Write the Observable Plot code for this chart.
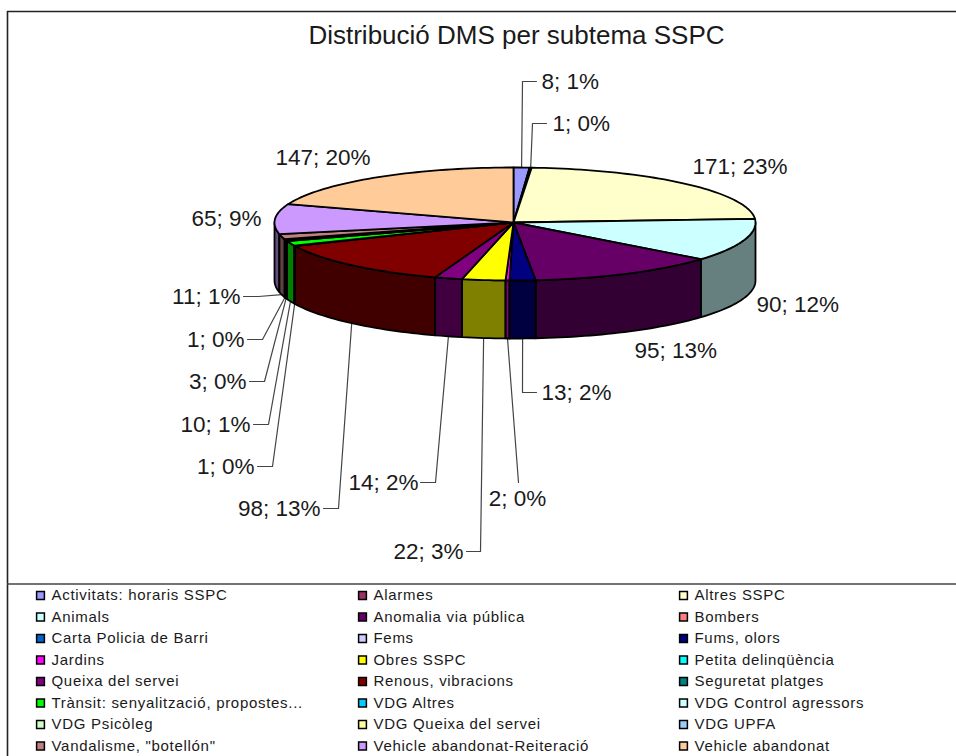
<!DOCTYPE html>
<html>
<head>
<meta charset="utf-8">
<style>
html,body{margin:0;padding:0;background:#fff;overflow:hidden}
</style>
<script src="https://cdn.jsdelivr.net/npm/d3@7"></script>
<script src="https://cdn.jsdelivr.net/npm/@observablehq/plot@0.6"></script>
</head>
<body>
<script>
const title = "Distribució DMS per subtema SSPC";
const categories = ["Activitats: horaris SSPC","Alarmes","Altres SSPC","Animals","Anomalia via pública","Bombers","Carta Policia de Barri","Fems","Fums, olors","Jardins","Obres SSPC","Petita delinqüència","Queixa del servei","Renous, vibracions","Seguretat platges","Trànsit: senyalització, propostes...","VDG Altres","VDG Control agressors","VDG Psicòleg","VDG Queixa del servei","VDG UPFA","Vandalisme, \"botellón\"","Vehicle abandonat-Reiteració","Vehicle abandonat"];
const values = [8,1,171,90,95,0,0,0,13,2,22,0,14,98,1,10,0,3,0,0,1,11,65,147];
const percents = [1,0,23,12,13,0,0,0,2,0,3,0,2,13,0,1,0,0,0,0,0,1,9,20];
const colors = ["#9999FF","#993366","#FFFFCC","#CCFFFF","#660066","#FF8080","#0066CC","#CCCCFF","#000080","#FF00FF","#FFFF00","#00FFFF","#800080","#800000","#008080","#00FF00","#00CCFF","#CCFFFF","#CCFFCC","#FFFF99","#99CCFF","#C08080","#CC99FF","#FFCC99"];

// Layout (page pixels), separate from the data.
const W = 956, H = 756;
const pie = {cx:513, cy:222, rxR:242, rxL:239, ryB:55, ryF:58, depth:58};
const labelLayout = {
  "Activitats: horaris SSPC":{tx:541,ty:81,a:"start",path:[[522,81],[536,81]]},
  "Alarmes":{tx:552,ty:123,a:"start",path:[[532,123],[546,123]]},
  "Altres SSPC":{tx:692,ty:166,a:"start"},
  "Animals":{tx:756,ty:304,a:"start"},
  "Anomalia via pública":{tx:634,ty:350,a:"start"},
  "Fums, olors":{tx:541,ty:392,a:"start",path:[[522,392],[536,392]]},
  "Jardins":{tx:517,ty:498,a:"middle",path:[[518,482]]},
  "Obres SSPC":{tx:463,ty:551,a:"end",path:[[480,551],[466,551]]},
  "Queixa del servei":{tx:418,ty:482,a:"end",path:[[435,482],[420,482]]},
  "Renous, vibracions":{tx:320,ty:508,a:"end",path:[[338,508],[323,508]]},
  "Seguretat platges":{tx:254,ty:466,a:"end",path:[[272,466],[257,466]]},
  "Trànsit: senyalització, propostes...":{tx:250,ty:424,a:"end",path:[[268,424],[253,424]]},
  "VDG Control agressors":{tx:246,ty:381,a:"end",path:[[264,381],[249,381]]},
  "VDG UPFA":{tx:244,ty:339,a:"end",path:[[262,339],[247,339]]},
  "Vandalisme, \"botellón\"":{tx:240,ty:296,a:"end",path:[[258,296],[243,296]]},
  "Vehicle abandonat-Reiteració":{tx:191,ty:218,a:"start"},
  "Vehicle abandonat":{tx:275,ty:157,a:"start"}
};

const total = d3.sum(values);
const rad = d => d * Math.PI / 180;
function rim(deg, dz) {
  const s = Math.sin(rad(deg)), c = Math.cos(rad(deg));
  return [pie.cx + (s >= 0 ? pie.rxR : pie.rxL) * s, pie.cy - (c >= 0 ? pie.ryB : pie.ryF) * c + dz];
}
function arc(a0, a1, dz) {
  const n = Math.max(2, Math.ceil((a1 - a0) / 1.5));
  return d3.range(n + 1).map(i => rim(a0 + (a1 - a0) * i / n, dz));
}

const tops = [], sides = [], labels = [], leaders = [];
let cum = 0;
categories.forEach((cat, i) => {
  const v = values[i];
  const a0 = cum / total * 360, a1 = (cum + v) / total * 360;
  cum += v;
  if (!v) return;
  const ring = [[pie.cx, pie.cy], ...arc(a0, a1, 0), [pie.cx, pie.cy]];
  ring.forEach(p => tops.push({cat, x:p[0], y:p[1]}));
  const s0 = Math.max(a0, 90), s1 = Math.min(a1, 270);
  if (s1 > s0) {
    const wall = [...arc(s0, s1, 0), ...arc(s0, s1, pie.depth).reverse()];
    wall.push(wall[0]);
    wall.forEach(p => sides.push({cat, x:p[0], y:p[1]}));
  }
  const lay = labelLayout[cat];
  labels.push({text:`${v}; ${percents[i]}%`, x:lay.tx, y:lay.ty, a:lay.a});
  if (lay.path) {
    const mid = (a0 + a1) / 2;
    const front = mid > 90 && mid < 270;
    const start = rim(mid, front ? pie.depth : 0);
    [start, ...lay.path].forEach(p => leaders.push({cat, x:p[0], y:p[1]}));
  }
});

const legend = categories.map((cat, i) => ({cat, col:i % 3, row:Math.floor(i / 3)}));
const legendX = [40, 362, 683];
const rowY = r => 595 + r * 21.5;

const FONT = "Liberation Sans, Arial, sans-serif";
const ink = "#1a1a1a";
const textOf = a => labels.filter(d => d.a === a);

const chart = Plot.plot({
  width: W, height: H,
  margin: 0,
  style: {fontFamily: FONT, background: "#fff", color: ink},
  x: {domain:[0, W], range:[0, W], axis:null},
  y: {domain:[0, H], range:[0, H], axis:null},
  color: {type:"ordinal", domain:categories, range:colors},
  marks: [
    // frame and legend separator
    Plot.ruleY([11], {x1:7, x2:W, stroke:"#222", strokeWidth:1.6}),
    Plot.ruleX([7], {y1:11, y2:H, stroke:"#222", strokeWidth:1.6}),
    Plot.ruleY([583.5], {x1:7, x2:W, stroke:"#444", strokeWidth:1.6}),
    // title
    Plot.text([title], {x:()=>516, y:()=>35, text:d=>d, fontSize:26, textAnchor:"middle", lineAnchor:"middle", fill:ink}),
    // leaders
    Plot.line(leaders, {x:"x", y:"y", z:"cat", stroke:"#444", strokeWidth:1.2, curve:"linear"}),
    // walls
    Plot.line(sides, {x:"x", y:"y", z:"cat", fill:"cat", stroke:"none", curve:"linear"}),
    Plot.line(sides, {x:"x", y:"y", z:"cat", fill:"#000", fillOpacity:0.5, stroke:"#000", strokeWidth:1.8, curve:"linear"}),
    // top faces
    Plot.line(tops, {x:"x", y:"y", z:"cat", fill:"cat", stroke:"#000", strokeWidth:1.8, curve:"linear"}),
    // value labels
    ...["start","middle","end"].map(a => Plot.text(textOf(a), {x:"x", y:"y", text:"text", fontSize:22.5, textAnchor:a, lineAnchor:"middle", fill:ink})),
    // legend
    Plot.dot(legend, {x:d=>legendX[d.col], y:d=>rowY(d.row), fill:"cat", symbol:"square", r:4.4, stroke:"#000", strokeWidth:1.5}),
    Plot.text(legend, {x:d=>legendX[d.col]+11, y:d=>rowY(d.row), text:"cat", fontSize:15, textAnchor:"start", lineAnchor:"middle", fill:ink})
  ]
});
const textGroups = chart.querySelectorAll('g[aria-label="text"]');
textGroups[textGroups.length - 1].style.letterSpacing = "0.7px";
document.body.appendChild(chart);
</script>
</body>
</html>
